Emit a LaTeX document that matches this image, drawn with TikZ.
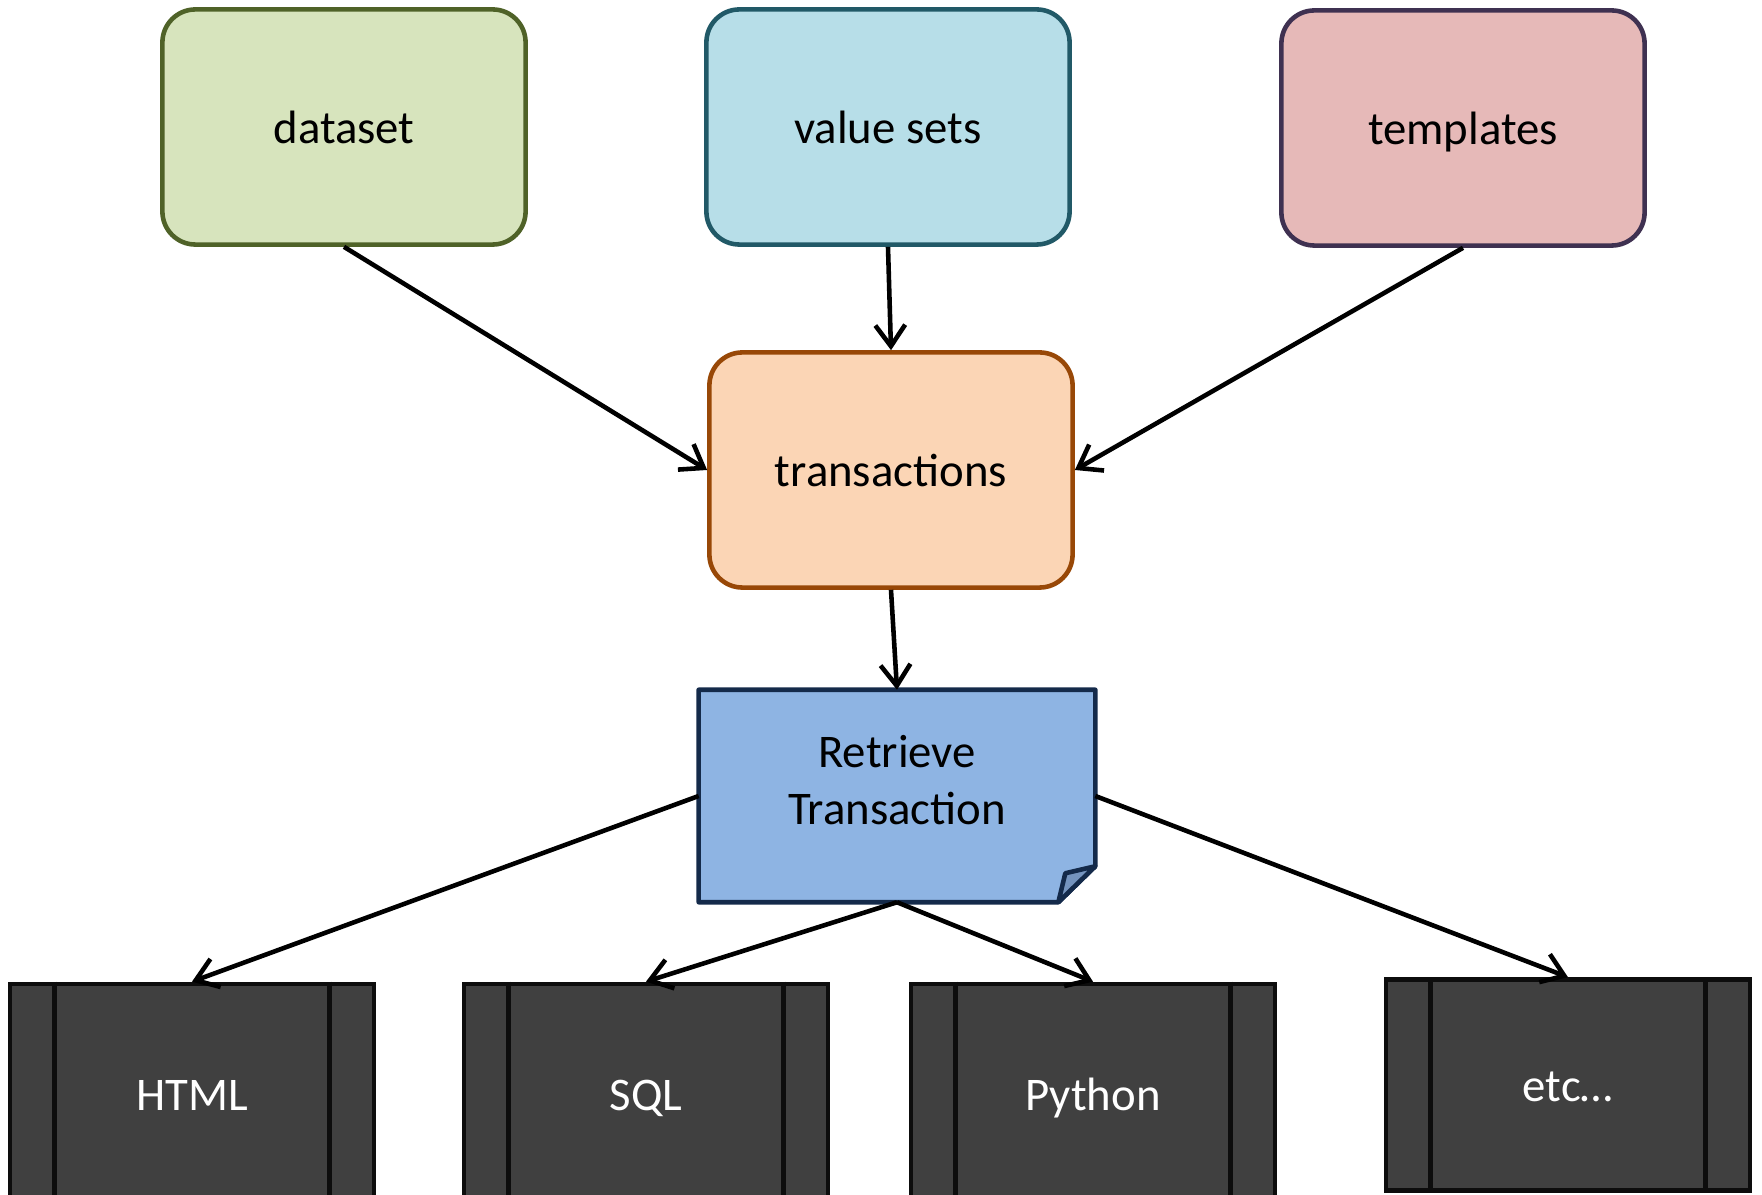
\documentclass[tikz,border=0pt]{standalone}
\usepackage{fontspec}
\setmainfont{Carlito}
\usetikzlibrary{arrows.meta}
\usetikzlibrary{calc}

\definecolor{dataFill}{HTML}{D7E4BD}
\definecolor{dataLine}{HTML}{4F6228}
\definecolor{valFill}{HTML}{B7DEE8}
\definecolor{valLine}{HTML}{215967}
\definecolor{tmplFill}{HTML}{E6B9B8}
\definecolor{tmplLine}{HTML}{3F3151}
\definecolor{transFill}{HTML}{FBD5B5}
\definecolor{transLine}{HTML}{984807}
\definecolor{retrFill}{HTML}{8EB4E3}
\definecolor{retrLine}{HTML}{142A4A}
\definecolor{foldFill}{HTML}{7594BE}
\definecolor{outFill}{HTML}{404040}
\definecolor{outLine}{HTML}{0D0D0D}

\tikzset{
  txt/.style={font=\fontsize{13.3}{16.4}\selectfont},
  box/.style={txt, text height=12.5pt, text depth=3pt, rounded corners=0.33cm, line width=1.3pt, minimum width=3.63cm, minimum height=2.35cm},
  outbox/.style={txt, text height=12.5pt, text depth=3pt, draw=outLine, fill=outFill, line width=1.3pt, minimum width=3.64cm, text=white},
  conn/.style={line width=1.3pt, -{Straight Barb[length=6pt,width=8.5pt]}},
}

\begin{document}
\begin{tikzpicture}[x=0.01cm,y=-0.01cm]
    \useasboundingbox (0,0) rectangle (1762,1195);
    % sources
    \node[box, draw=dataLine, fill=dataFill] (dataset) at (344,127) {dataset};
    \node[box, draw=valLine, fill=valFill] (valuesets) at (888,127) {value sets};
    \node[box, draw=tmplLine, fill=tmplFill] (templates) at (1463,128) {templates};
    \node[box, draw=transLine, fill=transFill] (trans) at (891,470) {transactions};
    % note shape with folded corner
    \node[minimum width=3.95cm, minimum height=2.11cm] (retr) at (897,796) {};
    \filldraw[draw=retrLine, fill=retrFill, line width=1.3pt, line join=round]
        (retr.north west) -- (retr.north east) -- ($(retr.south east)+(0,-36)$)
        -- ($(retr.south east)+(-37,0)$) -- (retr.south west) -- cycle;
    \filldraw[draw=retrLine, fill=foldFill, line width=1.3pt, line join=round]
        ($(retr.south east)+(-37,0)$) -- ($(retr.south east)+(-30,-29)$)
        -- ($(retr.south east)+(0,-36)$) -- cycle;
    \node[txt, align=center] (retrtext) at ($(retr)+(0,-16)$) {Retrieve\\Transaction};
    % outputs
    \node[outbox, minimum height=2.2cm] (html) at (192,1094) {HTML};
    \node[outbox, minimum height=2.2cm] (sql) at (646,1094) {SQL};
    \node[outbox, minimum height=2.2cm] (python) at (1093,1094) {Python};
    \node[outbox, minimum height=2.11cm] (etcbox) at (1568,1085) {etc\ldots};
    \foreach \b in {html,sql,python,etcbox}{
        \draw[outLine, line width=1.3pt] ([xshift=0.47cm]\b.north west) -- ([xshift=0.47cm]\b.south west);
        \draw[outLine, line width=1.3pt] ([xshift=-0.47cm]\b.north east) -- ([xshift=-0.47cm]\b.south east);
    }
    % connectors
    \draw[conn] (dataset.south) -- (trans.west);
    \draw[conn] (valuesets.south) -- (trans.north);
    \draw[conn] (templates.south) -- (trans.east);
    \draw[conn] (trans.south) -- (retr.north);
    \draw[conn] (retr.west) -- (html.north);
    \draw[conn] (retr.south) -- (sql.north);
    \draw[conn] (retr.south) -- (python.north);
    \draw[conn] (retr.east) -- (etcbox.north);
\end{tikzpicture}
\end{document}
